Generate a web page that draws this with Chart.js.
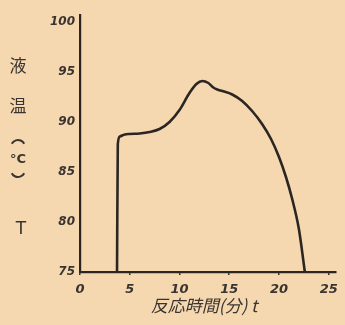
<!DOCTYPE html>
<html>
<head>
<meta charset="utf-8">
<script src="https://cdn.jsdelivr.net/npm/chart.js@4"></script>
<style>
  html, body { margin: 0; padding: 0; background: #f5d8b0; }
  #wrap { width: 345px; height: 325px; }
</style>
</head>
<body>
<div id="wrap"><canvas id="chart" width="345" height="325"></canvas></div>
<script>
// reaction time (min) and liquid temperature (degC)
const times = [3.72, 3.8, 4.0, 4.5, 5, 6, 7, 8, 9, 10, 11, 11.7, 12.3, 12.9, 13.4, 13.8, 14.3, 15.3, 16.3, 17.3, 18.3, 19.2, 20, 20.7, 21.3, 22, 22.6];
const temps = [75, 87.8, 88.55, 88.75, 88.8, 88.85, 89.0, 89.3, 90.0, 91.2, 92.9, 93.8, 94.1, 93.9, 93.45, 93.25, 93.1, 92.75, 92.1, 91.1, 89.8, 88.3, 86.5, 84.5, 82.4, 79.3, 75];
const xTicks = [0, 5, 10, 15, 20, 25];
const yTicks = [75, 80, 85, 90, 95, 100];
const xTitle = '反応時間(分) t';
const yTitleChars = ['液', '温'];

const ink = '#2b2622';

const labelsPlugin = {
    id: 'handLabels',
    beforeDraw(chart) {
        const c = chart.ctx;
        c.save();
        c.fillStyle = '#f5d8b0';
        c.fillRect(0, 0, chart.width, chart.height);
        c.restore();
    },
    afterDraw(chart) {
        const c = chart.ctx;
        c.save();
        c.fillStyle = '#3a3430';
        c.strokeStyle = '#3a3430';
        c.textAlign = 'center';
        c.textBaseline = 'middle';
        c.font = '17px "Noto Sans CJK JP"';
        c.fillText(yTitleChars[0], 18, 66);
        c.fillText(yTitleChars[1], 18, 106);
        // rotated brackets and degree sign
        c.lineWidth = 2;
        c.beginPath();
        c.arc(18, 147, 7, Math.PI * 1.15, Math.PI * 1.85);
        c.stroke();
        c.beginPath();
        c.arc(18, 170, 7, Math.PI * 0.15, Math.PI * 0.85);
        c.stroke();
        c.font = 'bold 13px "DejaVu Sans"';
        c.fillText('°C', 18, 160);
        c.font = '17px "DejaVu Sans"';
        c.fillText('T', 21, 230);
        c.font = 'italic 17px "Noto Sans CJK JP"';
        c.fillText(xTitle, 204, 306);
        c.restore();
    }
};

new Chart(document.getElementById('chart').getContext('2d'), {
    type: 'line',
    data: {
        datasets: [{
            data: times.map((t, i) => ({ x: t, y: temps[i] })),
            borderColor: ink,
            borderWidth: 2.6,
            pointRadius: 0,
            cubicInterpolationMode: 'monotone',
            fill: false
        }]
    },
    options: {
        responsive: false,
        animation: false,
        layout: { padding: { top: 15, right: 8, left: 0, bottom: 0 } },
        plugins: { legend: { display: false }, tooltip: { enabled: false } },
        scales: {
            x: {
                type: 'linear',
                min: 0,
                max: 25.7,
                afterFit: s => { s.height = 53; },
                afterBuildTicks: s => { s.ticks = xTicks.map(v => ({ value: v })); },
                grid: { display: true, drawOnChartArea: false, drawTicks: true, tickLength: 3, color: ink, lineWidth: 1.5 },
                border: { color: ink, width: 2.2 },
                ticks: {
                    color: '#3a3430',
                    padding: 7,
                    font: { family: 'DejaVu Sans', size: 13, weight: 'bold', style: 'italic' },
                    callback: v => v
                }
            },
            y: {
                min: 75,
                max: 100.7,
                afterFit: s => { s.width = 80; },
                afterBuildTicks: s => { s.ticks = yTicks.map(v => ({ value: v })); },
                grid: { display: false, drawTicks: false },
                border: { color: ink, width: 2.2 },
                ticks: {
                    color: '#3a3430',
                    padding: 5,
                    font: { family: 'DejaVu Sans', size: 12, weight: 'bold', style: 'italic' },
                    callback: v => v
                }
            }
        }
    },
    plugins: [labelsPlugin]
});
</script>
</body>
</html>
